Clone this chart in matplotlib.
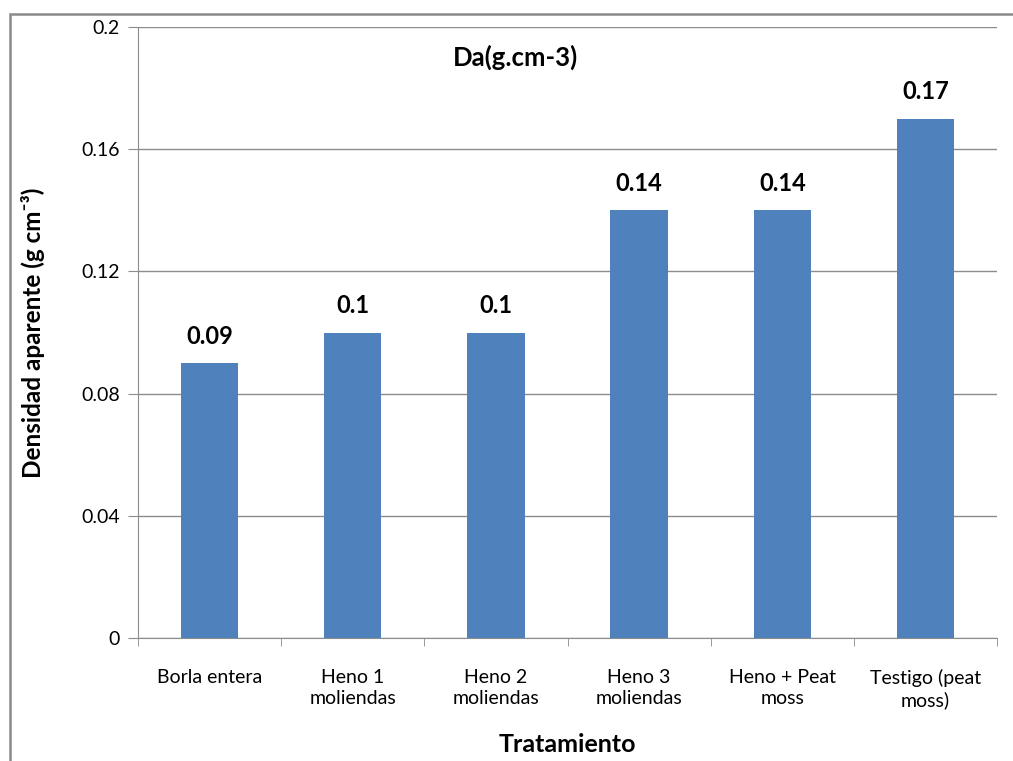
import numpy as np
import matplotlib.pyplot as plt
from matplotlib.patches import Rectangle

plt.rcParams['font.family'] = ['Lato', 'DejaVu Sans']

# data
categorias = ['Borla entera', 'Heno 1\nmoliendas', 'Heno 2\nmoliendas',
              'Heno 3\nmoliendas', 'Heno + Peat\nmoss', 'Testigo (peat\nmoss)']
densidad = [0.09, 0.1, 0.1, 0.14, 0.14, 0.17]
yticks = [0, 0.04, 0.08, 0.12, 0.16, 0.2]
yticklabels = ['0', '0.04', '0.08', '0.12', '0.16', '0.2']

fig = plt.figure(figsize=(10.13, 7.61), dpi=100)
ax = fig.add_axes([138/1013, 1 - 638/761, (997 - 138)/1013, (638 - 27)/761])

# outer chart frame (continues past right/bottom edge)
fig.patches.append(Rectangle((10/1013, -0.5), 2, 0.5 + (1 - 14/761),
                             transform=fig.transFigure, fill=False,
                             edgecolor='#8a8a8a', linewidth=1.8, zorder=0))

x = np.arange(len(categorias))
bars = ax.bar(x, densidad, width=0.4, color='#4f81bd', zorder=3)

for xi, v in zip(x, densidad):
    ax.text(xi, v + 0.005, f'{v:g}', ha='center', va='bottom',
            fontsize=17, fontweight='bold')

ax.set_xlim(-0.5, len(categorias) - 0.5)
ax.set_ylim(0, 0.2)
ax.set_yticks(yticks)
ax.set_yticklabels(yticklabels, fontsize=14)
ax.yaxis.grid(True, color='#8c8c8c', linewidth=1)
ax.set_axisbelow(True)

ax.set_xticks(x)
ax.set_xticklabels(categorias, fontsize=14, linespacing=1.3)
ax.set_xticks(np.arange(len(categorias) + 1) - 0.5, minor=True)
ax.tick_params(axis='x', which='major', length=0, pad=22)
ax.tick_params(axis='x', which='minor', length=6, color='#8c8c8c')
ax.tick_params(axis='y', length=7, color='#8c8c8c', pad=6)

for s in ['top', 'right']:
    ax.spines[s].set_visible(False)
for s in ['left', 'bottom']:
    ax.spines[s].set_color('#8c8c8c')

fig.text(515/1013, 1 - 57/761, 'Da(g.cm-3)', ha='center', va='center',
         fontsize=18.5, fontweight='bold')

ax.set_ylabel('Densidad aparente (g cm\u207b\u00b3)', fontsize=17.5,
              fontweight='bold', va='center')
ax.yaxis.set_label_coords(-0.122, 0.5)
ax.set_xlabel('Tratamiento', fontsize=18, fontweight='bold', va='center')
ax.xaxis.set_label_coords(0.5, -0.175)

fig.savefig('out.png', dpi=100)
